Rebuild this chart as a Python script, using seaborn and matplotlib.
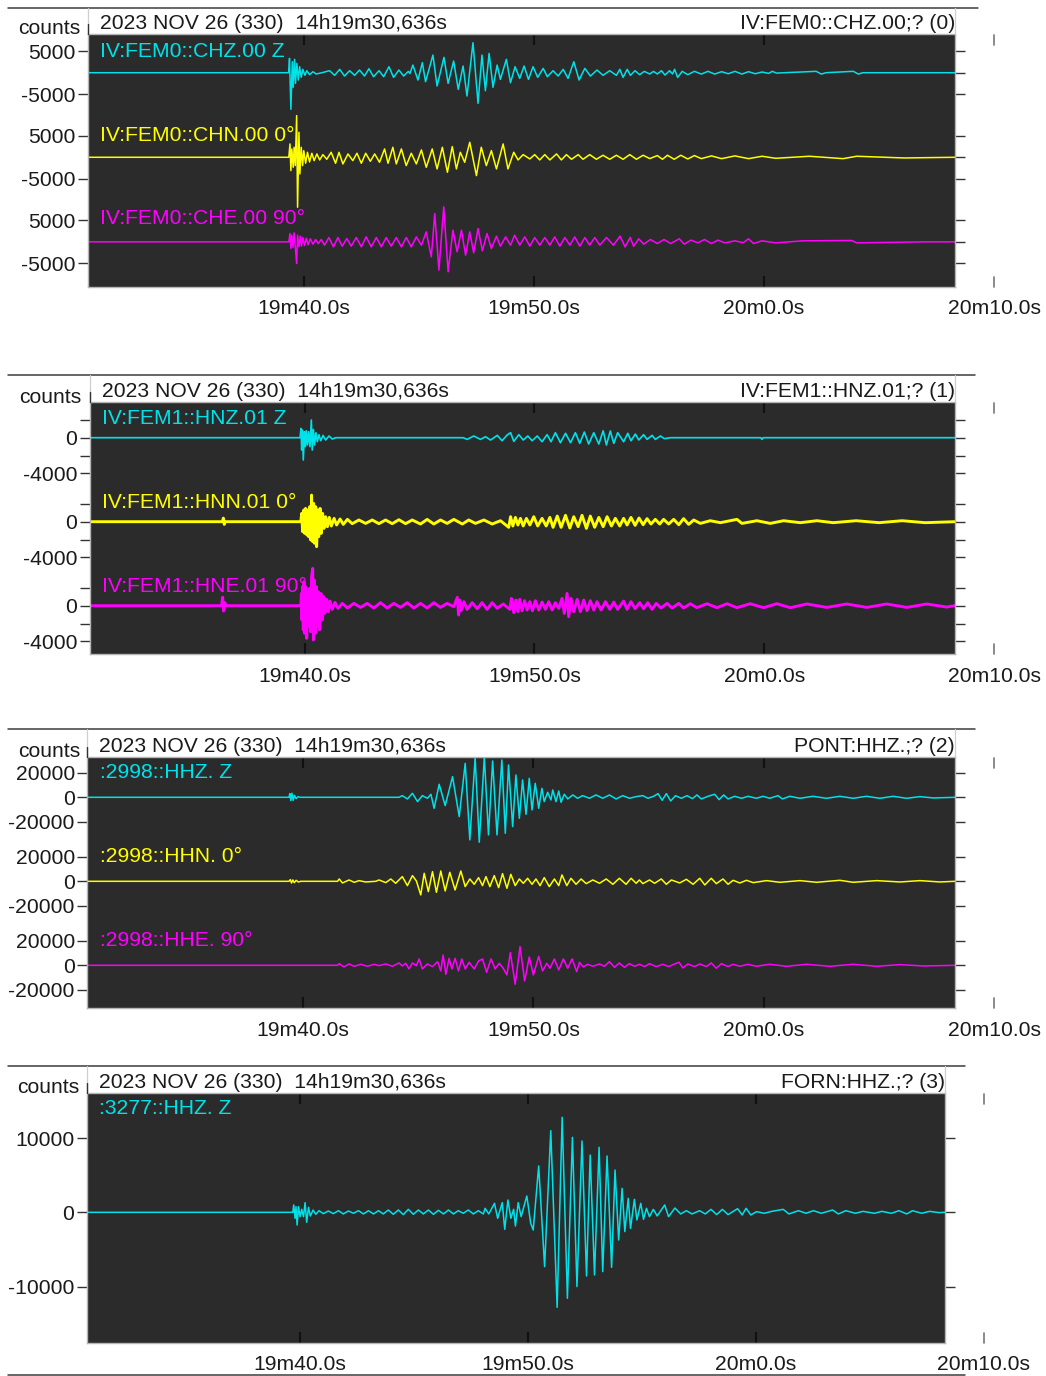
import numpy as np
import pandas as pd
import seaborn as sns
import matplotlib
matplotlib.use("Agg")
import matplotlib.pyplot as plt
import matplotlib.transforms as mtransforms
from matplotlib.lines import Line2D

sns.set_theme(style="white")
plt.rcParams["font.family"] = ["Liberation Sans", "DejaVu Sans"]
plt.rcParams["lines.solid_joinstyle"] = "round"

# ---------------------------------------------------------------------------
# time window: seconds after 2023-11-26 14h19m00s
START, END = 30.636, 68.3
tick_seconds = [40, 50, 60, 70]
tick_labels = ["19m40.0s", "19m50.0s", "20m0.0s", "20m10.0s"]

header_text = "2023 NOV 26 (330)  14h19m30,636s"
station_titles = ["IV:FEM0::CHZ.00;? (0)", "IV:FEM1::HNZ.01;? (1)", "PONT:HHZ.;? (2)", "FORN:HHZ.;? (3)"]
trace_names = [
    ["IV:FEM0::CHZ.00 Z", "IV:FEM0::CHN.00 0°", "IV:FEM0::CHE.00 90°"],
    ["IV:FEM1::HNZ.01 Z", "IV:FEM1::HNN.01 0°", "IV:FEM1::HNE.01 90°"],
    [":2998::HHZ. Z", ":2998::HHN. 0°", ":2998::HHE. 90°"],
    [":3277::HHZ. Z"],
]

# ---------------------------------------------------------------------------
# waveforms as (time s, counts) turning points
fem0_chz = [(30.64, 0), (39.35, 0), (39.39, 3350), (39.45, -8580), (39.51, 2570), (39.55, -3430),
    (39.61, 3120), (39.65, -2500), (39.71, 2180), (39.77, -1720), (39.83, 1400), (39.90, -1090),
    (39.97, 780), (40.06, -620), (40.14, 470), (40.26, -470), (40.41, 230), (40.55, -310), (40.80, 0),
    (41.13, 470), (41.35, -620), (41.57, 780), (41.78, -780), (42.00, 470), (42.22, -620), (42.43, 620),
    (42.65, -780), (42.84, 940), (43.04, -940), (43.28, 470), (43.48, -940), (43.71, 1400), (43.91, -1090),
    (44.14, 620), (44.35, -780), (44.55, 300), (44.62, -200), (44.75, 1790), (44.97, -1720), (45.16, 2340),
    (45.30, -2110), (45.62, 4130), (45.80, -3120), (46.10, 3590), (46.28, -2500), (46.52, 2730),
    (46.72, -3900), (46.93, 1560), (47.10, -5460), (47.36, 7020), (47.58, -7180), (47.75, 4130),
    (47.90, -4210), (48.06, 4520), (48.23, -3430), (48.41, 1790), (48.55, -1560), (48.81, 3120),
    (48.99, -2340), (49.19, 1400), (49.39, -1330), (49.58, 1560), (49.77, -1560), (49.97, 1400),
    (50.17, -1090), (50.41, 1010), (50.59, -940), (50.84, 470), (51.06, -780), (51.28, 780), (51.49, -1330),
    (51.74, 2570), (51.97, -1720), (52.22, 1010), (52.46, -780), (52.75, 620), (53.01, -620), (53.30, 470),
    (53.59, -620), (53.74, 800), (53.88, -1100), (54.06, 790), (54.20, -620), (54.40, 470), (54.60, -470),
    (54.80, 310), (55.04, -310), (55.20, 310), (55.37, -300), (55.55, 470), (55.70, -550), (55.90, 470),
    (56.03, -300), (56.12, 790), (56.25, -1110), (56.45, 320), (56.69, -470), (56.98, 320), (57.28, -320),
    (57.57, 320), (57.86, -320), (58.16, 240), (58.45, -240), (58.74, 320), (59.04, -320), (59.33, 240),
    (59.62, -240), (59.92, 160), (60.21, -160), (60.36, 320), (60.55, -100), (60.90, 0), (62.27, 320),
    (62.49, -320), (62.70, 0), (63.88, 320), (64.10, -320), (64.30, 0), (68.30, 0)]

fem0_chn = [(30.64, 0), (39.36, 0), (39.41, 3120), (39.45, -3120), (39.49, 1950), (39.55, -2340),
    (39.59, 2340), (39.64, -1950), (39.70, 9750), (39.74, -11700), (39.80, 5850), (39.84, -3900),
    (39.90, 2340), (39.96, -1950), (40.01, 1560), (40.09, -1400), (40.17, 1170), (40.26, -1090),
    (40.36, 940), (40.46, -780), (40.58, 780), (40.70, -620), (40.84, 620), (41.01, -470), (41.20, 1170),
    (41.39, -1400), (41.54, 1170), (41.71, -1560), (41.93, 780), (42.14, -780), (42.32, 940), (42.51, -1400),
    (42.70, 940), (42.90, -940), (43.09, 780), (43.30, -1170), (43.52, 1950), (43.67, -1400), (43.88, 2340),
    (44.03, -1560), (44.25, 1950), (44.46, -1950), (44.68, 940), (44.90, -1560), (45.12, 1720),
    (45.33, -2340), (45.59, 1950), (45.80, -2730), (46.03, 2340), (46.25, -3510), (46.46, 2500),
    (46.64, -2730), (46.81, 1170), (47.00, -1170), (47.22, 3510), (47.51, -4290), (47.72, 2340),
    (47.94, -1950), (48.16, 1560), (48.38, -2730), (48.67, 3120), (48.88, -2730), (49.13, 1170),
    (49.32, -620), (49.54, 620), (49.83, -390), (50.04, 620), (50.26, -620), (50.48, 620), (50.70, -620),
    (50.99, 780), (51.20, -620), (51.42, 620), (51.64, -470), (51.93, 620), (52.14, -470), (52.43, 620),
    (52.72, -470), (53.01, 470), (53.30, -470), (53.59, 470), (53.88, -470), (54.17, 620), (54.46, -470),
    (54.75, 470), (55.04, -310), (55.37, 400), (55.59, -470), (55.81, 470), (56.10, -470), (56.39, 470),
    (56.69, -400), (56.98, 400), (57.28, -320), (57.72, 320), (58.16, -320), (58.74, 320), (59.33, -320),
    (59.92, 240), (60.51, -240), (61.97, 240), (63.44, -320), (64.03, 240), (66.09, -160), (68.30, 0)]

fem0_che = [(30.64, 0), (39.36, 0), (39.41, 1950), (39.45, -1560), (39.49, 1560), (39.54, -1330),
    (39.59, 2110), (39.65, -1790), (39.70, -5070), (39.74, 1560), (39.80, -1170), (39.86, 1330),
    (39.91, -1010), (39.97, 1010), (40.04, -860), (40.12, 860), (40.20, -700), (40.29, 700), (40.41, -550),
    (40.52, 550), (40.64, -390), (40.77, 550), (40.91, -780), (41.10, 1010), (41.30, -1170), (41.49, 1010),
    (41.68, -1010), (41.88, 780), (42.07, -1010), (42.29, 1010), (42.51, -1170), (42.72, 1170),
    (42.94, -1170), (43.16, 1010), (43.38, -1170), (43.59, 1010), (43.81, -1010), (44.03, 1010),
    (44.25, -1170), (44.46, 1010), (44.68, -1170), (44.90, 1170), (45.12, -780), (45.33, 2340),
    (45.55, -3510), (45.70, 6630), (45.88, -6630), (46.09, 8190), (46.28, -7020), (46.49, 2730),
    (46.67, -2340), (46.86, 2730), (47.04, -3120), (47.22, 2340), (47.39, -2570), (47.58, 3120),
    (47.77, -2110), (47.97, 1950), (48.16, -1560), (48.38, 1330), (48.55, -1010), (48.78, 1170),
    (48.99, -780), (49.17, 1560), (49.39, -780), (49.61, 1170), (49.83, -1010), (50.04, 1010),
    (50.26, -780), (50.48, 1010), (50.70, -780), (50.91, 1170), (51.13, -1010), (51.35, 1010),
    (51.57, -780), (51.78, 1170), (52.00, -1010), (52.22, 1010), (52.43, -780), (52.65, 1010),
    (52.87, -780), (53.16, 1030), (53.46, -790), (53.75, 1340), (53.97, -1190), (54.19, 1030),
    (54.34, -1030), (54.56, 710), (54.78, -550), (55.07, 550), (55.37, -400), (55.66, 550), (55.95, -400),
    (56.32, 710), (56.54, -550), (56.83, 400), (57.13, -240), (57.42, 550), (57.72, -400), (58.01, 400),
    (58.30, -240), (58.74, 240), (59.10, -200), (59.33, 710), (59.55, -400), (59.92, 240), (60.51, -240),
    (61.68, 240), (63.81, 320), (64.03, -240), (66.97, 0), (68.30, 0)]

fem1_hnz = [(30.64, 0), (39.80, 0), (39.84, 1040), (39.87, -1380), (39.90, 860), (39.94, -2500),
    (39.99, 670), (40.03, -1010), (40.07, 780), (40.12, -820), (40.17, 670), (40.23, -1010), (40.29, 1980),
    (40.33, -1380), (40.38, 930), (40.43, -820), (40.49, 560), (40.55, -450), (40.62, 340), (40.70, -340),
    (40.80, 260), (40.91, -260), (41.06, 190), (41.20, -150), (41.35, 0), (46.90, 0), (47.07, -190),
    (47.36, 190), (47.65, -190), (47.87, 110), (48.09, -260), (48.38, 260), (48.59, -340), (48.81, 300),
    (48.96, 560), (49.10, -410), (49.32, 340), (49.51, -260), (49.71, 190), (49.90, -340), (50.12, 190),
    (50.33, -450), (50.55, 340), (50.72, -450), (50.91, 560), (51.13, -560), (51.35, 490), (51.57, -560),
    (51.78, 560), (51.97, -630), (52.17, 630), (52.36, -710), (52.58, 560), (52.80, -710), (52.99, 780),
    (53.13, -820), (53.30, 750), (53.45, -630), (53.62, 560), (53.88, -450), (54.06, 490), (54.20, -340),
    (54.39, 410), (54.54, -260), (54.75, 340), (54.90, -190), (55.12, 260), (55.26, -190), (55.48, 190),
    (55.65, -110), (55.91, 0), (59.85, 0), (59.90, -190), (59.95, 0), (68.30, 0)]

fem1_hnn = [(30.64, 0), (36.42, 0), (36.46, 400), (36.50, -300), (36.54, 0), (39.83, 0), (39.87, 930),
    (39.91, -1120), (39.96, 1310), (40.00, -1310), (40.04, 1490), (40.09, -1490), (40.13, 1310),
    (40.17, -1680), (40.22, 1680), (40.26, -2050), (40.30, 2980), (40.35, -2240), (40.39, 2050),
    (40.43, -2420), (40.48, 1680), (40.52, -2800), (40.57, 1310), (40.61, -1680), (40.67, 1490),
    (40.72, -1310), (40.78, 930), (40.84, -750), (40.91, 560), (40.99, -560), (41.07, 480), (41.16, -480),
    (41.28, 370), (41.39, -370), (41.54, 300), (41.68, -300), (41.86, 260), (42.07, -220), (42.36, 190),
    (42.65, -190), (42.94, 190), (43.23, -220), (43.52, 190), (43.81, -220), (44.10, 220), (44.39, -220),
    (44.68, 190), (45.04, -260), (45.33, 260), (45.62, -260), (45.91, 190), (46.20, -190), (46.49, 260),
    (46.86, -260), (47.14, 190), (47.43, -190), (47.80, 190), (48.16, -260), (48.52, 110), (48.88, -630),
    (48.96, 560), (49.06, -480), (49.17, 480), (49.28, -370), (49.39, 370), (49.51, -480), (49.65, 370),
    (49.80, -370), (49.97, 560), (50.14, -480), (50.33, 370), (50.51, -480), (50.67, 480), (50.81, -630),
    (50.99, 630), (51.16, -630), (51.35, 710), (51.54, -710), (51.71, 560), (51.90, -560), (52.07, 710),
    (52.26, -750), (52.43, 630), (52.62, -630), (52.80, 480), (52.99, -560), (53.16, 560), (53.35, -480),
    (53.52, 370), (53.71, -480), (53.88, 370), (54.03, -370), (54.20, 480), (54.38, -410), (54.55, 410),
    (54.73, -340), (54.90, 340), (55.07, -260), (55.26, 260), (55.45, -260), (55.62, 260), (55.84, -260),
    (56.06, 260), (56.28, -340), (56.49, 340), (56.71, -300), (56.93, 190), (57.22, -190), (57.65, 110),
    (58.09, -110), (58.81, 260), (59.03, -190), (59.68, 110), (60.26, -190), (60.84, 110), (61.57, -110),
    (62.29, 110), (63.00, -110), (64.00, 110), (65.00, -110), (66.00, 110), (67.00, -110), (68.30, 0)]

fem1_hne = [(30.64, 0), (36.38, 0), (36.43, 950), (36.47, -600), (36.52, 350), (36.58, 0), (39.83, 0),
    (39.86, 1380), (39.88, -1600), (39.91, 2130), (39.94, -2720), (39.97, 2690), (40.00, -3100),
    (40.04, 2130), (40.09, -3660), (40.13, 1570), (40.17, -2350), (40.22, 1940), (40.26, -2910),
    (40.30, 3250), (40.35, 4180), (40.38, -3840), (40.42, 2870), (40.46, -3100), (40.51, 2130),
    (40.55, -2350), (40.59, 1570), (40.65, -2720), (40.71, 1380), (40.77, -1600), (40.83, 1010),
    (40.88, -860), (40.96, 710), (41.03, -670), (41.10, 520), (41.20, -410), (41.32, 370), (41.45, -300),
    (41.64, 260), (41.86, -260), (42.14, 260), (42.43, -190), (42.72, 260), (43.01, -260), (43.30, 340),
    (43.59, -260), (43.88, 260), (44.17, -190), (44.46, 340), (44.75, -260), (45.04, 260), (45.33, -260),
    (45.62, 340), (45.91, -190), (46.20, 260), (46.49, -110), (46.64, 930), (46.70, -1040), (46.75, 630),
    (46.81, -560), (46.93, 450), (47.07, -410), (47.29, 340), (47.51, -340), (47.72, 340), (47.94, -410),
    (48.16, 340), (48.38, -300), (48.64, 190), (48.93, -410), (49.00, 820), (49.10, -780), (49.19, 630),
    (49.28, -670), (49.36, 710), (49.46, -560), (49.57, 560), (49.68, -480), (49.80, 450), (49.91, -560),
    (50.04, 560), (50.19, -480), (50.33, 410), (50.48, -410), (50.62, 450), (50.77, -480), (50.91, 340),
    (51.06, -300), (51.20, 820), (51.30, -860), (51.42, 1380), (51.49, -1230), (51.59, 820), (51.71, -670),
    (51.86, 710), (52.00, -670), (52.14, 630), (52.29, -560), (52.43, 560), (52.58, -480), (52.72, 450),
    (52.90, -480), (53.09, 450), (53.28, -410), (53.45, 410), (53.62, -410), (53.88, 520), (54.03, -410),
    (54.20, 450), (54.38, -340), (54.58, 340), (54.75, -340), (54.93, 340), (55.12, -410), (55.30, 260),
    (55.51, -260), (55.77, 260), (55.99, -260), (56.28, 260), (56.49, -260), (56.78, 220), (57.07, -220),
    (57.51, 220), (57.94, -220), (58.38, 220), (58.81, -220), (59.39, 220), (59.97, -220), (60.55, 220),
    (61.13, -220), (61.86, 190), (62.72, -190), (63.59, 190), (64.46, -190), (65.33, 190), (66.20, -190),
    (67.07, 190), (67.94, -150), (68.30, 0)]

pont_hhz = [(30.64, 0), (39.39, 0), (39.43, 3000), (39.47, -2700), (39.52, 3300), (39.57, -2500),
    (39.63, 1600), (39.70, -1100), (39.78, 500), (39.88, 0), (44.17, 0), (44.31, 1370), (44.53, -1370),
    (44.75, 3290), (44.97, -3560), (45.18, 1370), (45.40, -820), (45.55, 2470), (45.69, -9040),
    (45.91, 10690), (46.17, -6850), (46.49, 16990), (46.78, -15890), (47.04, 27950), (47.24, -35070),
    (47.47, 32610), (47.65, -36990), (47.87, 33430), (48.05, -30960), (48.23, 29870), (48.42, -30960),
    (48.63, 30690), (48.78, -29590), (48.92, 26580), (49.10, -24110), (49.24, 18360), (49.39, -17260),
    (49.53, 14250), (49.68, -13970), (49.82, 15620), (49.94, -10410), (50.08, 11510), (50.23, -9040),
    (50.37, 7400), (50.47, -3560), (50.62, 4110), (50.76, -2190), (50.84, 6030), (50.98, -3560),
    (51.10, 5210), (51.20, -4110), (51.34, 2470), (51.49, -1370), (51.71, 1920), (51.92, -820),
    (52.14, 1370), (52.43, -820), (52.72, 1920), (53.01, -820), (53.30, 1920), (53.59, -1370),
    (53.88, 1370), (54.17, -820), (54.46, 550), (54.75, 1370), (54.97, -820), (55.22, 820), (55.41, 3010),
    (55.59, -2470), (55.77, 3010), (55.96, -3010), (56.17, 1370), (56.42, -820), (56.67, 1370),
    (56.90, -1100), (57.10, 1920), (57.29, -1370), (57.58, 820), (57.87, 2470), (58.06, -1920),
    (58.26, 1920), (58.45, -1370), (58.74, 820), (59.03, -820), (59.32, 820), (59.68, -820), (59.97, 820),
    (60.26, -820), (60.62, 1370), (60.81, -1370), (61.13, 820), (61.57, -820), (62.14, 820), (62.72, -820),
    (63.30, 820), (63.88, -820), (64.46, 820), (65.04, -820), (65.62, 820), (66.20, -820), (66.78, 550),
    (67.36, -550), (68.30, 0)]

pont_hhn = [(30.64, 0), (39.39, 0), (39.45, 1400), (39.50, -1400), (39.56, 1100), (39.62, -1100),
    (39.70, 800), (39.80, -600), (39.90, 0), (41.50, 0), (41.57, 1920), (41.71, -1370), (42.00, 1100),
    (42.22, -820), (42.43, 550), (42.72, -550), (43.16, 0), (43.30, 1100), (43.59, -1100), (43.81, 1920),
    (44.02, -1640), (44.31, 3840), (44.53, -3560), (44.75, 4660), (44.92, 270), (45.11, -11230),
    (45.26, 6580), (45.44, -8490), (45.62, 7950), (45.79, -9040), (45.98, 8490), (46.17, -7950),
    (46.37, 7400), (46.60, -7120), (46.85, 8490), (47.04, -4380), (47.24, 1920), (47.43, -2470),
    (47.62, 3010), (47.79, -3560), (47.94, 3840), (48.11, -4380), (48.30, 4660), (48.49, -5210),
    (48.66, 6300), (48.85, -5750), (49.02, 5750), (49.21, -3560), (49.39, 1920), (49.56, -1640),
    (49.75, 2470), (49.94, -2470), (50.11, 1920), (50.29, -3560), (50.47, 3010), (50.69, -4380),
    (50.91, 1920), (51.10, -3560), (51.24, 5210), (51.45, -3560), (51.63, 2470), (51.85, -2470),
    (52.07, 1920), (52.29, -1920), (52.58, 1100), (52.87, -1640), (53.16, 1920), (53.45, -2470),
    (53.73, 2470), (54.02, -2470), (54.24, 2470), (54.46, -1640), (54.60, 1100), (54.75, -1920),
    (55.04, 1100), (55.26, -1640), (55.55, 1920), (55.77, -2470), (55.99, 1100), (56.35, -1370),
    (56.64, 1640), (56.93, -2470), (57.22, 2470), (57.44, -3010), (57.72, 2470), (57.94, -1920),
    (58.23, 1920), (58.45, -2470), (58.67, 820), (58.96, -1370), (59.25, 820), (59.54, -1100),
    (60.12, 550), (60.70, -820), (61.57, 550), (62.29, -820), (63.30, 820), (63.88, -820), (64.90, 550),
    (65.91, -550), (66.78, 550), (67.65, -550), (68.30, 0)]

pont_hhe = [(30.64, 0), (41.50, 0), (41.57, 1370), (41.78, -1370), (42.00, 1100), (42.22, -820),
    (42.51, 820), (42.80, -820), (43.09, 820), (43.30, -270), (43.59, 1100), (43.88, -820), (44.17, 1920),
    (44.31, -550), (44.46, 1640), (44.60, -3010), (44.75, 1920), (44.92, -270), (45.04, 5210),
    (45.18, -3010), (45.40, 1100), (45.62, -1100), (45.84, 3010), (45.98, -4660), (46.08, 8490),
    (46.20, -7400), (46.34, 5750), (46.46, -3010), (46.60, 5750), (46.75, -4660), (46.89, 5210),
    (47.04, -3010), (47.21, 2470), (47.43, -3010), (47.62, 3560), (47.79, 5210), (47.97, -5750),
    (48.16, 5210), (48.34, -3010), (48.52, 1640), (48.69, -2470), (48.85, -7950), (49.00, 10410),
    (49.21, -15620), (49.42, 15340), (49.62, -12880), (49.82, 6850), (50.00, -7950), (50.23, 7400),
    (50.40, -4660), (50.58, 1640), (50.72, -2470), (50.91, 5210), (51.10, -3840), (51.30, 5210),
    (51.49, -2470), (51.68, 5210), (51.88, -5210), (52.00, 2470), (52.17, -1370), (52.36, 820),
    (52.58, -820), (52.87, 1100), (53.08, -820), (53.30, 3010), (53.52, -1640), (53.73, 1920),
    (53.95, -1640), (54.17, 1370), (54.39, -820), (54.61, 820), (54.83, -1100), (55.04, 1370),
    (55.33, -1100), (55.62, 820), (55.87, -1100), (56.13, 1100), (56.32, 2470), (56.49, -2190),
    (56.71, 1100), (57.00, -1100), (57.22, 1100), (57.51, -1100), (57.72, 1920), (57.94, -2470),
    (58.16, 1370), (58.45, -1100), (58.67, 820), (58.96, -820), (59.32, 820), (59.68, -820), (60.26, 820),
    (60.99, -820), (61.86, 820), (62.87, -820), (63.88, 820), (64.90, -820), (65.91, 550), (66.93, -550),
    (68.30, 0)]

forn_hhz = [(30.64, 0), (39.68, 0), (39.72, 990), (39.78, -810), (39.82, 760), (39.87, -1710),
    (39.93, 760), (40.00, -580), (40.07, 400), (40.15, -580), (40.22, 1300), (40.29, -1350), (40.37, 670),
    (40.45, -490), (40.57, 310), (40.69, -270), (40.83, 220), (41.02, -180), (41.24, 180), (41.46, -180),
    (41.68, 220), (41.90, -220), (42.12, 180), (42.34, -130), (42.56, 220), (42.78, -220), (43.00, 220),
    (43.22, -220), (43.44, 220), (43.65, -220), (43.87, 310), (44.09, -270), (44.31, 310), (44.53, -310),
    (44.75, 400), (44.97, -270), (45.19, 310), (45.41, -220), (45.63, 310), (45.85, -270), (46.07, 270),
    (46.29, -220), (46.51, 310), (46.73, -220), (46.94, 220), (47.16, -130), (47.38, 310), (47.60, -220),
    (47.82, 220), (48.04, -220), (48.12, 540), (48.28, -220), (48.53, 1210), (48.67, -810), (48.87, 1300),
    (48.98, -2290), (49.12, 1660), (49.25, -810), (49.37, 400), (49.45, -1840), (49.57, 1300),
    (49.70, -580), (49.82, 760), (49.95, 2200), (50.12, -1480), (50.23, -2380), (50.47, 6240),
    (50.73, -7320), (51.00, 11000), (51.28, -12800), (51.50, 12800), (51.73, -11580), (51.95, 10100),
    (52.15, -10010), (52.37, 9610), (52.57, -8580), (52.73, 7720), (52.92, -8440), (53.12, 8760),
    (53.28, -7990), (53.47, 7590), (53.67, -7410), (53.82, 5700), (53.98, -3730), (54.13, 3230),
    (54.25, -2600), (54.40, 1890), (54.50, -2160), (54.67, 1750), (54.78, -1030), (54.95, 1210),
    (55.07, -940), (55.20, 540), (55.33, -580), (55.50, 400), (55.67, -490), (56.00, 990), (56.17, -580),
    (56.45, 580), (56.70, -220), (56.95, 220), (57.20, -220), (57.53, 220), (57.78, -220), (58.03, 400),
    (58.28, -310), (58.53, 400), (58.78, -310), (59.20, 490), (59.40, -360), (59.57, 540), (59.78, -360),
    (60.03, 90), (60.37, -130), (60.70, 130), (61.20, 400), (61.45, -220), (61.87, 220), (62.20, -130),
    (62.53, 220), (62.87, -130), (63.37, 310), (63.62, -220), (63.95, 220), (64.37, -130), (64.70, 130),
    (65.20, -130), (65.53, 130), (65.95, -130), (66.28, 220), (66.62, -220), (66.87, 220), (67.28, -130),
    (67.62, 130), (68.03, -40), (68.30, 0)]

# ---------------------------------------------------------------------------
W, H = 1046, 1376
fig = plt.figure(figsize=(W / 100, H / 100), dpi=100)
fig.patch.set_facecolor("white")

CYAN, YELLOW, MAGENTA = "#00e2ea", "#ffff00", "#ff00ff"
BG = "#2b2b2b"
FS = 15.2
INK = "#1a1a1a"


def fx(px):
    return px / W


def fy(py):
    return 1 - py / H


def hline(y, x0, x1, color, lw):
    fig.add_artist(Line2D([fx(x0), fx(x1)], [fy(y), fy(y)], color=color, lw=lw,
                          transform=fig.transFigure))


def vline(x, y0, y1, color, lw):
    fig.add_artist(Line2D([fx(x), fx(x)], [fy(y0), fy(y1)], color=color, lw=lw,
                          transform=fig.transFigure))


panels = [
    dict(box=(88, 955, 34, 286.7), ylim=(-50100, 9060), offsets=[0, -19800, -39600],
         major=[5000, -5000], minor=[0], minor_left=False,
         traces=[fem0_chz, fem0_chn, fem0_che], lws=[1.1, 1.1, 1.1],
         label_y=[56.7, 140.7, 224.5], rule=(7.5, 978), counts_x=80),
    dict(box=(89.5, 955, 402.3, 654), ylim=(-24226, 3965), offsets=[0, -9408, -18816],
         major=[0, -4000], minor=[2000, -2000], minor_left=True,
         traces=[fem1_hnz, fem1_hnn, fem1_hne], lws=[1.2, 2.1, 2.1],
         label_y=[424.3, 508.3, 592.3], rule=(375, 975), counts_x=81),
    dict(box=(87.3, 955, 756.7, 1008), ylim=(-173400, 33410), offsets=[0, -69130, -138260],
         major=[20000, 0, -20000], minor=[], minor_left=True,
         traces=[pont_hhz, pont_hhn, pont_hhe], lws=[1.1, 1.1, 1.1],
         label_y=[778.3, 861.7, 945.7], rule=(729, 975), counts_x=80),
    dict(box=(86.7, 945, 1092.7, 1342.7), ylim=(-17570, 16120), offsets=[0],
         major=[10000, 0, -10000], minor=[], minor_left=True,
         traces=[forn_hhz], lws=[1.1],
         label_y=[1114], rule=(1065.7, 965), counts_x=79.5),
]
colors = [CYAN, YELLOW, MAGENTA]

for p, spec in enumerate(panels):
    left, right, top, bottom = spec["box"]
    ax = fig.add_axes([fx(left), fy(bottom), (right - left) / W, (bottom - top) / H])
    ax.set_facecolor(BG)

    for k, (trace, off) in enumerate(zip(spec["traces"], spec["offsets"])):
        df = pd.DataFrame(trace, columns=["t", "counts"])
        df["y"] = df["counts"] + off
        sns.lineplot(data=df, x="t", y="y", ax=ax, color=colors[k], linewidth=spec["lws"][k],
                     sort=False, estimator=None, legend=False)

    ax.set_xlim(START, END)
    ax.set_ylim(*spec["ylim"])
    ax.set_xlabel("")
    ax.set_ylabel("")

    # time axis: ticks inside on top and bottom
    ax.set_xticks(tick_seconds[:3])
    ax.set_xticklabels(tick_labels[:3])
    ax.tick_params(axis="x", which="major", direction="in", length=8, width=1.5, color="#111111",
                   top=True, bottom=True, labelsize=FS, labelcolor=INK, pad=9)

    # amplitude ticks per trace
    maj_pos, maj_lab, min_pos = [], [], []
    for off in spec["offsets"]:
        for v in spec["major"]:
            maj_pos.append(off + v)
            maj_lab.append(str(v))
        for v in spec["minor"]:
            min_pos.append(off + v)
    ax.set_yticks(maj_pos)
    ax.set_yticklabels(maj_lab)
    ax.set_yticks(min_pos, minor=True)
    ax.tick_params(axis="y", which="both", direction="out", length=7.5, width=1.0, color="#333333",
                   left=True, right=True, labelsize=FS, labelcolor=INK, pad=1.5)
    if not spec["minor_left"]:
        ax.tick_params(axis="y", which="minor", left=False)

    for s in ax.spines.values():
        s.set_color("#b5b5b5")
        s.set_linewidth(1.0)

    # 20m10.0s lies beyond the window: label and tick stubs drawn outside the axes
    ax_h = bottom - top
    blend = mtransforms.blended_transform_factory(ax.transData, ax.transAxes)
    ax.plot([tick_seconds[3]] * 2, [1 - 11 / ax_h, 1 - 1 / ax_h], transform=blend,
            color="#777777", lw=1.2, clip_on=False)
    ax.plot([tick_seconds[3]] * 2, [0, 10 / ax_h], transform=blend,
            color="#777777", lw=1.2, clip_on=False)
    ax.annotate(tick_labels[3], xy=(tick_seconds[3], 0), xycoords=blend, xytext=(0, -9),
                textcoords="offset points", ha="center", va="top", fontsize=FS, color=INK,
                annotation_clip=False)

    # header band
    rule_y, rule_end = spec["rule"]
    hline(rule_y, 8, rule_end, "#3c3c3c", 1.1)
    vline(left, rule_y, top, "#cfcfcf", 0.9)
    vline(right, rule_y, top, "#cfcfcf", 0.9)
    vline(left, top - 10, top, "#333333", 1.0)
    fig.text(fx(spec["counts_x"]), fy(top + 0.5), "counts", ha="right", va="baseline",
             fontsize=FS, color=INK)
    fig.text(fx(left + 12), fy(top - 5), header_text, ha="left", va="baseline",
             fontsize=FS, color=INK)
    fig.text(fx(right), fy(top - 5), station_titles[p], ha="right", va="baseline",
             fontsize=FS, color=INK)

    # channel names
    for k, ly in enumerate(spec["label_y"]):
        fig.text(fx(left + 12.5), fy(ly), trace_names[p][k], ha="left", va="baseline",
                 fontsize=FS, color=colors[k])

# closing rule under the last panel
hline(1374.5, 8, 965, "#3c3c3c", 1.1)

fig.savefig("out.png", dpi=100, facecolor="white")
